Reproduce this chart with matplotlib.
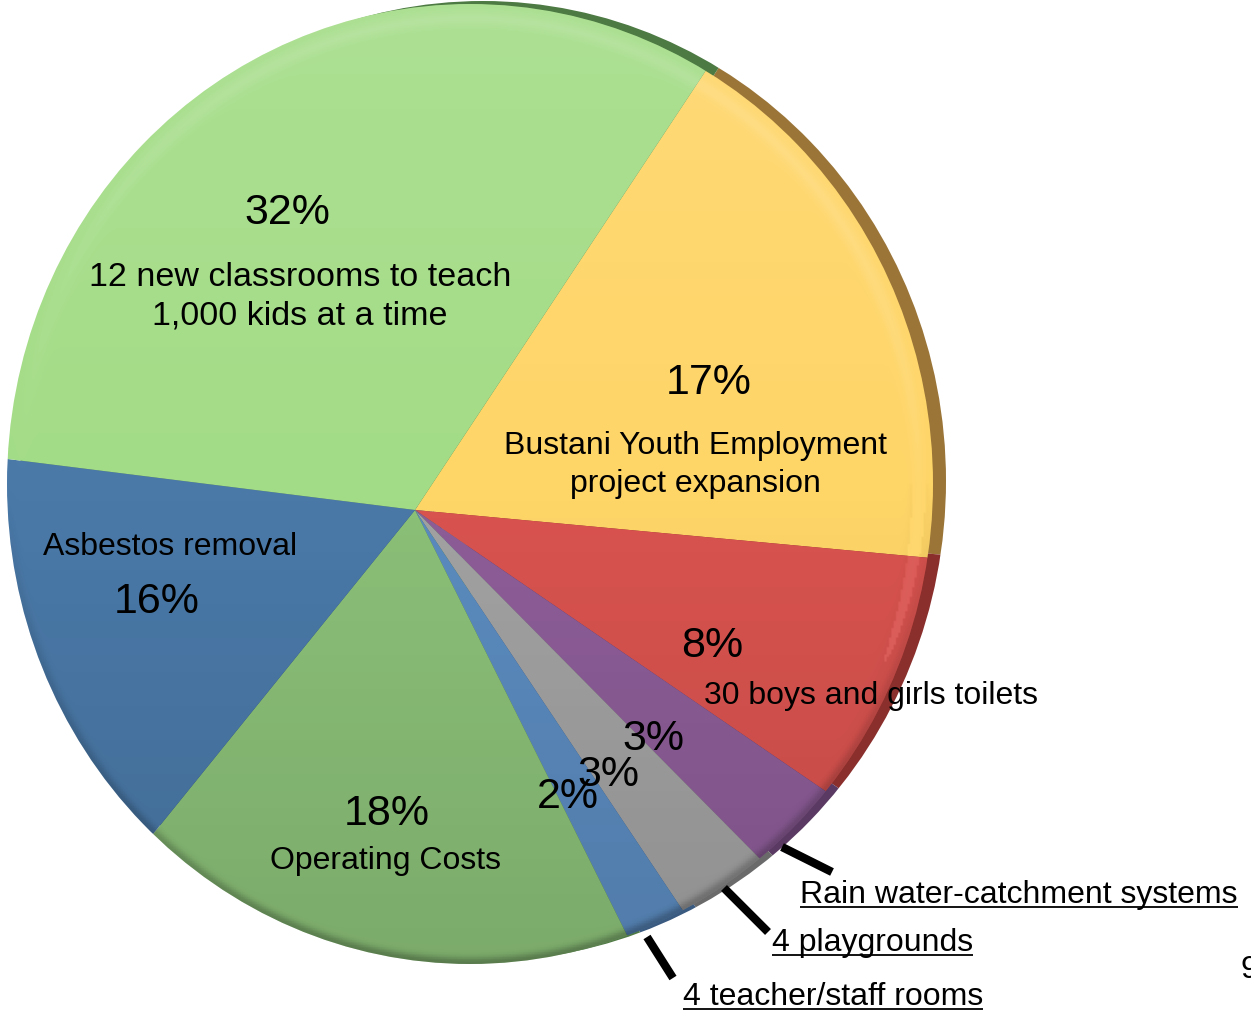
import numpy as np
import matplotlib
matplotlib.use("Agg")
import matplotlib.pyplot as plt
from matplotlib.patches import Ellipse

plt.rcParams['font.family'] = ['Liberation Sans', 'DejaVu Sans']

# ---- data (clockwise from the top-right boundary) ----
categories = ["Bustani Youth Employment project expansion",
              "30 boys and girls toilets",
              "Rain water-catchment systems",
              "4 playgrounds",
              "4 teacher/staff rooms",
              "Operating Costs",
              "Asbestos removal",
              "12 new classrooms to teach 1,000 kids at a time"]
values = [17, 8, 3, 3, 2, 18, 16, 32]
pct_labels = ["17%", "8%", "3%", "3%", "2%", "18%", "16%", "32%"]
colors = ["#fed567", "#d9534f", "#8d5d98", "#a2a2a2", "#5b8bbf",
          "#8bc078", "#4a79a8", "#a3dc86"]
rim_colors = ["#9b7538", "#8a2f2c", "#5a3a62", "#6a6a6a", "#3a5a80",
              "#4f7a45", "#2e4f70", "#4c7a42"]

W, H = 1251, 1015
fig = plt.figure(figsize=(W / 100, H / 100), dpi=100)

# one axes in pixel units (y up)
ax = fig.add_axes([0, 0, 1, 1])

# tilted-disc geometry (pixels): wedges meet at apex, outline is an ellipse
apex = (415, H - 510)
ecx, ecy, erx, ery = 470, H - 484, 463, 480
rim_dx, rim_dy = 13, 3
START = 56.5

# rim (3D side) behind
rim_w, _ = ax.pie(values, colors=rim_colors, startangle=START, counterclock=False,
                  radius=600, center=(apex[0] + rim_dx, apex[1] + rim_dy),
                  wedgeprops=dict(linewidth=0), frame=True)
wedges, _ = ax.pie(values, colors=colors, startangle=START, counterclock=False,
                   radius=600, center=apex, wedgeprops=dict(linewidth=0), frame=True)
ax.set_aspect('auto')
ax.set_xlim(0, W)
ax.set_ylim(0, H)
ax.axis('off')

rim_clip = Ellipse((ecx + rim_dx, ecy + rim_dy), 2 * erx, 2 * ery, transform=ax.transData)
for w in rim_w:
    w.set_clip_on(True)
    w.set_clip_path(rim_clip)
clip = Ellipse((ecx, ecy), 2 * erx, 2 * ery, transform=ax.transData)
for w in wedges:
    w.set_clip_on(True)
    w.set_clip_path(clip)

# subtle shading overlay clipped to the disc
n = 400
yy, xx = np.mgrid[1:-1:n * 1j, -1:1:n * 1j]
rr = np.sqrt(xx ** 2 + yy ** 2)
light = 0.5 * (yy + 1)
shade = np.zeros((n, n, 4))
alpha = np.abs(light - 0.5) * 0.22
ring = np.exp(-((rr - 0.972) / 0.015) ** 2) * 0.10 * np.clip(0.3 + yy + 0.3 * xx, 0, 1)
edge = np.exp(-((rr - 1.0) / 0.012) ** 2) * 0.25 * np.clip(-yy, 0, 1)
white = ((light > 0.5) | (ring > 0.02)) & (edge < 0.05)
shade[..., :3] = np.where(white[..., None], 1.0, 0.0)
shade[..., 3] = np.clip(alpha + ring + edge, 0, 1)
im = ax.imshow(shade, extent=(ecx - erx, ecx + erx, ecy - ery, ecy + ery),
               zorder=3, aspect='auto')
im.set_clip_path(Ellipse((ecx, ecy), 2 * erx, 2 * ery, transform=ax.transData))
ax.set_xlim(0, W)
ax.set_ylim(0, H)

# overlay axes in pixel coordinates (y down) for text
tax = fig.add_axes([0, 0, 1, 1])
tax.set_xlim(0, W)
tax.set_ylim(H, 0)
tax.axis('off')

PS, LS = 31, 23
tax.text(287, 213, pct_labels[7], fontsize=PS, ha='center', va='center')
tax.text(300, 297, "12 new classrooms to teach\n1,000 kids at a time", fontsize=24.5,
         ha='center', va='center', linespacing=1.3)
tax.text(709, 383, pct_labels[0], fontsize=PS, ha='center', va='center')
tax.text(695, 465, "Bustani Youth Employment\nproject expansion", fontsize=LS,
         ha='center', va='center', linespacing=1.35)
tax.text(170, 547, "Asbestos removal", fontsize=LS, ha='center', va='center')
tax.text(157, 602, pct_labels[6], fontsize=PS, ha='center', va='center')
tax.text(712, 646, pct_labels[1], fontsize=PS, ha='center', va='center')
tax.text(704, 696, "30 boys and girls toilets", fontsize=LS, ha='left', va='center')
tax.text(653, 739, pct_labels[2], fontsize=PS, ha='center', va='center')
tax.text(608, 775, pct_labels[3], fontsize=PS, ha='center', va='center')
tax.text(568, 797, pct_labels[4], fontsize=PS, ha='center', va='center')
tax.text(387, 814, pct_labels[5], fontsize=PS, ha='center', va='center')
tax.text(386, 861, "Operating Costs", fontsize=LS, ha='center', va='center')
tax.text(1240, 970, "9", fontsize=LS, ha='left', va='center')

# leader lines
leaders = [((782, 847), (832, 872)), ((724, 888), (768, 932)), ((647, 937), (673, 978))]
for (x0, y0), (x1, y1) in leaders:
    tax.plot([x0, x1], [y0, y1], color='black', lw=6, solid_capstyle='butt')

# underlined outer labels
outer = [(800, 903, "Rain water-catchment systems"),
         (772, 951, "4 playgrounds"),
         (683, 1005, "4 teacher/staff rooms")]
renderer = fig.canvas.get_renderer()
for x, yb, s in outer:
    t = tax.text(x, yb, s, fontsize=LS, ha='left', va='baseline')
    bb = t.get_window_extent(renderer=renderer)
    tax.plot([x, x + bb.width], [yb + 4, yb + 4], color='black', lw=1.3,
             solid_capstyle='butt')

fig.savefig("out.png", dpi=100)
